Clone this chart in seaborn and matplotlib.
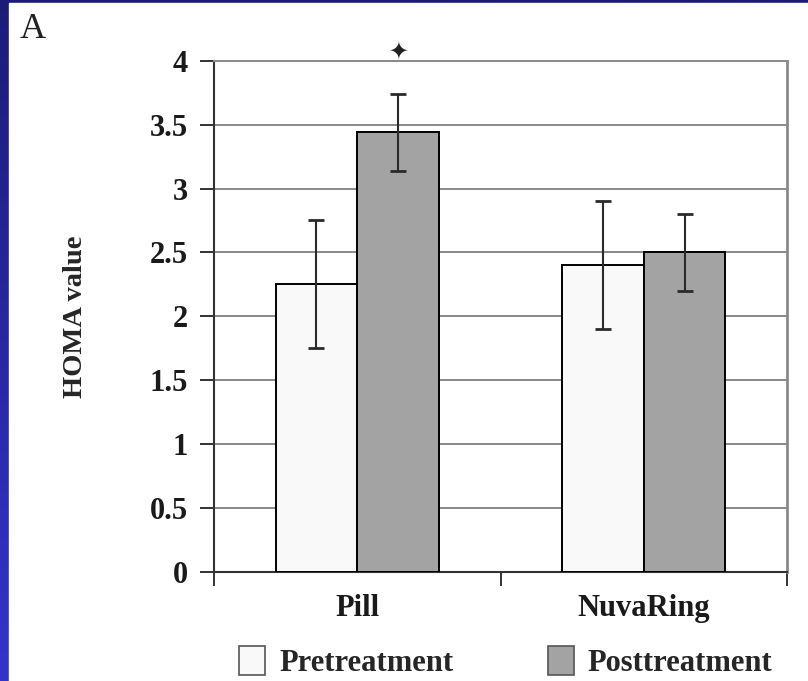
import numpy as np
import pandas as pd
import seaborn as sns
import matplotlib.pyplot as plt
from matplotlib.patches import Rectangle, Patch

# data
groups = ["Pill", "NuvaRing"]
phases = ["Pretreatment", "Posttreatment"]
pre_vals = [2.25, 2.40]
post_vals = [3.44, 2.50]
pre_err = [0.50, 0.50]
post_err = [0.30, 0.30]
y_ticks = [0, 0.5, 1, 1.5, 2, 2.5, 3, 3.5, 4]
y_tick_labels = ["0", "0.5", "1", "1.5", "2", "2.5", "3", "3.5", "4"]

df = pd.DataFrame({
    "group": groups * 2,
    "phase": [phases[0]] * 2 + [phases[1]] * 2,
    "value": pre_vals + post_vals,
    "err": pre_err + post_err,
})

sns.set_style("white")
plt.rcParams["font.family"] = ["Liberation Serif", "DejaVu Serif"]

fig = plt.figure(figsize=(8.08, 6.81), dpi=100)
fig.patch.set_facecolor("#2a2ab0")

# blue frame, darker towards the top, white panel inside
bg = fig.add_axes([0, 0, 1, 1], zorder=-10)
grad = np.linspace(0, 1, 256).reshape(-1, 1)
bg.imshow(grad, aspect="auto", extent=[0, 1, 0, 1], origin="lower",
          cmap=sns.blend_palette(["#3434cc", "#1c1c78"], as_cmap=True))
bg.add_patch(Rectangle((9 / 808, 0), 1, 1 - 3 / 681, color="white"))
bg.set_xlim(0, 1)
bg.set_ylim(0, 1)
bg.axis("off")

ax = fig.add_axes([214 / 808, 1 - 572 / 681, (787 - 214) / 808, (572 - 60.7) / 681])
palette = {"Pretreatment": "#f9f9f9", "Posttreatment": "#a3a3a3"}
sns.barplot(data=df, x="group", y="value", hue="phase", order=groups,
            hue_order=phases, palette=palette, width=0.57, errorbar=None,
            edgecolor="black", linewidth=1.4, saturation=1, ax=ax,
            legend=False, zorder=3)

# error bars on the drawn bars
for cont, ph in zip(ax.containers, phases):
    sub = df[df["phase"] == ph].set_index("group").loc[groups]
    xs = [b.get_x() + b.get_width() / 2 for b in cont]
    ax.errorbar(xs, sub["value"], yerr=sub["err"], fmt="none",
                ecolor="#2a2a2a", elinewidth=1.5, capsize=5.5, capthick=2,
                zorder=4)

# significance mark above Pill posttreatment
star_x = ax.containers[1][0].get_x() + ax.containers[1][0].get_width() / 2
ax.text(star_x, 4.07, "\u2726", ha="center", va="center", fontsize=17,
        family="DejaVu Sans", color="#222222", clip_on=False, zorder=5)

ax.set_ylim(0, 4)
ax.set_xlim(-0.5, 1.5)
ax.set_yticks(y_ticks)
ax.set_yticklabels(y_tick_labels)
ax.yaxis.grid(True, color="#8a8a8a", linewidth=1.4)
ax.set_axisbelow(True)
ax.set_xlabel("")
ax.set_ylabel("HOMA value", fontsize=20.5, fontweight="bold", labelpad=44)

ax.set_xticks([-0.5, 0.5, 1.5], minor=True)
ax.tick_params(axis="x", which="minor", direction="out", length=10, width=1.4,
               color="#333333", bottom=True)
ax.tick_params(axis="x", which="major", length=0, pad=16, labelsize=22)
ax.tick_params(axis="y", direction="out", length=10, width=1.4, left=True,
               color="#333333", labelsize=22, pad=9)
for lab in ax.get_xticklabels() + ax.get_yticklabels():
    lab.set_fontweight("bold")
    lab.set_color("#1a1a1a")

for side in ["left", "bottom"]:
    ax.spines[side].set_color("#333333")
    ax.spines[side].set_linewidth(1.5)
ax.spines["right"].set_color("#8a8a8a")
ax.spines["right"].set_linewidth(2)
ax.spines["top"].set_color("#8a8a8a")
ax.spines["top"].set_linewidth(1.4)

handles = [Patch(facecolor=palette[p], edgecolor="#555555", linewidth=1.2, label=p)
           for p in phases]
fig.legend(handles=handles, loc="center", ncol=2, frameon=False,
           bbox_to_anchor=(506 / 808, 1 - 662 / 681),
           prop={"family": "Liberation Serif", "weight": "bold", "size": 22},
           handlelength=0.85, handleheight=1.05, handletextpad=0.45,
           columnspacing=3.1)

fig.text(20 / 808, 1 - 30 / 681, "A", fontsize=26, va="center", ha="left",
         color="#222222")

fig.savefig("out.png", dpi=100)
